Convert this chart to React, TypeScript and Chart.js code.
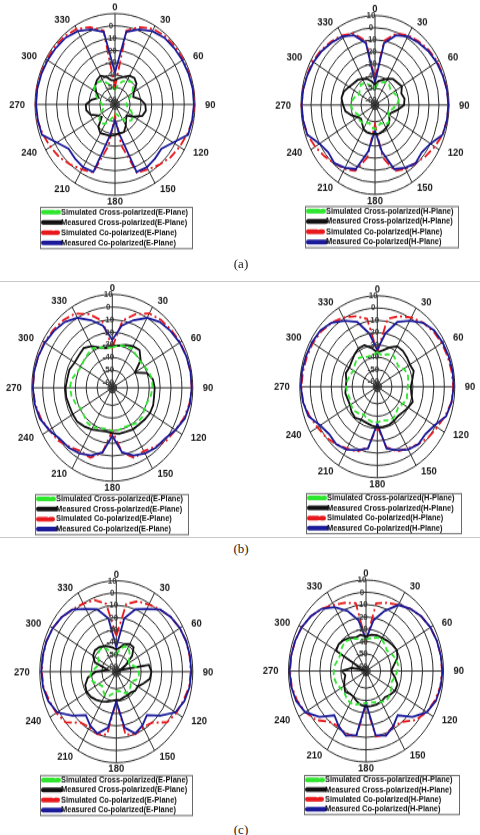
import React, { useEffect, useRef } from 'react';
import { Chart, registerables } from 'chart.js';

Chart.register(...registerables);

// ---------- axis definitions ----------
const ANGLES = [0, 10, 20, 30, 40, 50, 60, 70, 80, 90, 100, 110, 120, 130, 140, 150, 160, 170, 180, 190, 200, 210, 220, 230, 240, 250, 260, 270, 280, 290, 300, 310, 320, 330, 340, 350];
const ANGLE_LABELS = ANGLES.map(String);
const RING_TICKS = [-63, -62, -61, -60, -50, -40, -30, -20, -10, 0, 10];
const LABELED_TICKS = [-60, -50, -40, -30, -20, -10, 0, 10];
const R_MIN = -64;
const R_MAX = 10;

const SERIES_NAMES = ['Simulated Cross-polarized', 'Measured Cross-polarized', 'Simulated Co-polarized', 'Measured Co-polarized'];

// ---------- (a) E-plane ----------
const A_E_SIM_CROSS = [-52, -48, -44, -42, -40, -42, -46, -50, -52, -54, -52, -48, -45, -44, -46, -50, -54, -56, -56, -54, -50, -46, -44, -45, -48, -52, -54, -52, -50, -46, -42, -40, -40, -42, -46, -50];
const A_E_MEAS_CROSS = [-44, -42, -40, -37, -36, -38, -44, -46, -40, -36, -35, -37, -44, -50, -48, -44, -40, -40, -39, -38, -38, -37, -40, -48, -46, -40, -37, -37, -42, -48, -44, -40, -38, -37, -40, -44];
const A_E_SIM_CO = [-50, -3, 3, 7, 8.5, 9, 9, 9, 9.5, 9.5, 9, 7, 5, 3, 0, -3, -5, -30, -55, -30, -5, -3, 0, 3, 5, 7, 9, 9.5, 9.5, 9, 9, 9, 8.5, 7, 3, -3];
const A_E_MEAS_CO = [-38, -4, 1, 5, 7, 7.5, 8, 8.5, 9, 9, 8.5, 8, -2, -8, -6.5, -5, -5.5, -39, -51, -39, -5.5, -5, -6.5, -8, -2, 8, 8.5, 9, 9, 8.5, 8, 7.5, 7, 5, 1, -4];

// ---------- (a) H-plane ----------
const A_H_SIM_CROSS = [-50, -46, -44, -42, -42, -44, -43, -41, -40, -42, -46, -50, -48, -45, -44, -46, -48, -46, -44, -45, -48, -47, -45, -44, -46, -44, -41, -40, -41, -43, -46, -44, -42, -43, -46, -49];
const A_H_MEAS_CROSS = [-47, -44, -42, -39, -36, -35, -33, -36, -34, -35, -41, -46, -48, -45, -43, -42, -41, -40, -40, -40, -40, -41, -44, -46, -44, -39, -34, -32, -30, -31, -34, -36, -37, -39, -41, -44];
const A_H_SIM_CO = [-42, -10, -1, 2.5, 4.5, 6.5, 8, 8.5, 9, 9.5, 9, 8, 5, 2, -1, -3, -6, -20, -48, -20, -6, -3, -1, 2, 5, 8, 9, 9.5, 9, 8.5, 8, 6.5, 4.5, 2.5, -1, -10];
const A_H_MEAS_CO = [-45, -12, -2.5, 1.5, 3.5, 5.5, 7, 8, 9, 9.3, 9, 8, 0, -3, -1, -4, -7.5, -25, -43, -25, -7.5, -4, -1, -3, 0, 8, 9, 9.3, 9, 8, 7, 5.5, 3.5, 1.5, -2.5, -12];

// ---------- (b) E-plane ----------
const B_E_SIM_CROSS = [-32, -30, -29, -28, -30, -31, -30, -28, -27, -27, -28, -30, -30, -28, -28, -30, -31, -30, -30, -31, -30, -28, -28, -30, -31, -28, -26, -25, -26, -29, -31, -30, -29, -28, -30, -32];
const B_E_MEAS_CROSS = [-31, -30, -28, -26, -25, -30, -40, -30, -26, -25, -25, -24, -24, -25, -26, -26, -27, -27, -28, -29, -28, -26, -24, -22, -22, -22, -21, -21, -22, -22, -24, -24, -23, -26, -30, -32];
const B_E_SIM_CO = [-32, -10, -2, 4, 6, 7, 8, 8.5, 9, 9, 8, 6, 3, 1, -3, -6, -5, -12, -30, -12, -5, -6, -3, 1, 3, 6, 8, 9, 9, 8.5, 8, 7, 6, 4, -2, -10];
const B_E_MEAS_CO = [-26, -14, -7, 0, 4, 6, 7.5, 8.5, 9, 9, 8.5, 7, 3, -1, -2, -4, -7, -12, -26, -12, -7, -4, -2, -1, 3, 7, 8.5, 9, 9, 8.5, 7.5, 6, 4, 0, -7, -14];

// ---------- (b) H-plane ----------
const B_H_SIM_CROSS = [-36, -38, -36, -34, -36, -38, -35, -33, -34, -35, -35, -34, -36, -38, -36, -34, -35, -36, -35, -35, -36, -38, -36, -34, -35, -36, -35, -34, -35, -36, -38, -36, -34, -36, -38, -38];
const B_H_MEAS_CROSS = [-36, -34, -30, -26, -26, -27, -28, -27, -30, -32, -31, -28, -30, -32, -33, -32, -31, -31, -31, -32, -33, -33, -31, -32, -34, -34, -33, -34, -34, -32, -33, -32, -30, -28, -28, -32];
const B_H_SIM_CO = [-36, -8, -3, 1, 4, 6, 7, 7.5, 8, 8.5, 8, 5, 2, 0, -3, -6, -8, -14, -32, -14, -8, -6, -3, 0, 2, 5, 8, 8.5, 8, 7.5, 7, 6, 4, 1, -3, -8];
const B_H_MEAS_CO = [-34, -20, -8, -2, 4, 7, 8, 8.5, 9, 9, 8, 6, -1, -4, -3, -5, -9, -13, -34, -13, -9, -5, -3, -4, -1, 6, 8, 9, 9, 8.5, 8, 7, 4, -2, -8, -20];

// ---------- (c) E-plane ----------
const C_E_SIM_CROSS = [-50, -46, -42, -41, -44, -48, -50, -48, -44, -42, -42, -44, -48, -46, -44, -44, -46, -48, -48, -46, -43, -42, -44, -46, -44, -40, -38, -40, -44, -46, -44, -41, -40, -42, -46, -50];
const C_E_MEAS_CROSS = [-46, -44, -40, -38, -38, -44, -54, -60, -32, -30, -31, -36, -40, -40, -42, -42, -42, -41, -41, -40, -38, -36, -34, -32, -31, -32, -36, -44, -56, -42, -38, -37, -38, -40, -42, -44];
const C_E_SIM_CO = [-35, -8, -3, -1, 2, 5, 7, 8, 8, 8, 7.5, 5, 3, 0, -10, -12, -10, -12, -40, -12, -10, -12, -10, 0, 3, 5, 7.5, 8, 8, 8, 7, 5, 2, 0, -2, -8];
const C_E_MEAS_CO = [-44, -20, -10, -5, 2, 5, 7, 8, 8.5, 8.5, 8, 6, 2, -8.5, -18, -13.5, -10.5, -18, -40, -18, -10.5, -13.5, -18, -8.5, 2, 6, 8, 8.5, 8.5, 8, 7, 5, 2, -5, -10, -20];

// ---------- (c) H-plane ----------
const C_H_SIM_CROSS = [-38, -37, -35, -34, -36, -38, -36, -34, -33, -34, -36, -38, -36, -34, -33, -35, -37, -38, -38, -37, -35, -34, -35, -37, -36, -34, -33, -33, -34, -36, -36, -34, -33, -34, -36, -38];
const C_H_MEAS_CROSS = [-36, -34, -33, -33, -32, -31, -30, -32, -37, -40, -36, -32, -32, -34, -36, -35, -35, -35, -35, -36, -38, -40, -40, -38, -40, -42, -44, -41, -50, -60, -31, -30, -31, -33, -35, -34];
const C_H_SIM_CO = [-40, -8, -5, -2, 2, 5, 7, 8, 8.5, 8.5, 8, 6, 3, -2, -10, -12, -9, -10, -36, -10, -9, -12, -10, -2, 3, 6, 8, 8.5, 8.5, 8, 7, 5, 2, -2, -5, -8];
const C_H_MEAS_CO = [-38, -22, -12, -2, 2, 5, 7, 8, 8.5, 9, 8.5, 7, 3, -6, -17, -12, -8, -11, -38, -11, -8, -12, -17, -6, 3, 7, 8.5, 9, 8.5, 8, 7, 5, 2, -4, -12, -22];

// ---------- styles ----------
const STYLES = [
  { color: '#2ee62e', width: 1.8, dash: [5, 3], legendDash: [11, 3], order: 0 },
  { color: '#111111', width: 1.8, dash: [], legendDash: [], order: 1 },
  { color: '#e8191c', width: 1.8, dash: [8, 3, 2, 3], legendDash: [9, 3, 3, 3], order: 3 },
  { color: '#1b1b9a', width: 1.8, dash: [], legendDash: [], order: 2 },
];

const FONT = '"Liberation Sans", Arial, sans-serif';

type Panel = {
  left: number; top: number; h: number;
  cx: number; cy: number; rx: number; ry: number;
  legend: { x: number; y: number; w: number; h: number };
  hideTop: boolean; plane: string; data: number[][];
};

const PANELS: Panel[] = [
  { left: 0, top: 0, h: 262, cx: 115, cy: 104, rx: 80, ry: 90.5, legend: { x: 40, y: 206, w: 152, h: 41 }, hideTop: true, plane: 'E', data: [A_E_SIM_CROSS, A_E_MEAS_CROSS, A_E_SIM_CO, A_E_MEAS_CO] },
  { left: 240, top: 0, h: 262, cx: 375, cy: 104.5, rx: 74, ry: 89, legend: { x: 305, y: 205, w: 153, h: 41 }, hideTop: false, plane: 'H', data: [A_H_SIM_CROSS, A_H_MEAS_CROSS, A_H_SIM_CO, A_H_MEAS_CO] },
  { left: 0, top: 283, h: 254, cx: 112.3, cy: 387.3, rx: 80.5, ry: 93, legend: { x: 35, y: 493, w: 153, h: 40 }, hideTop: false, plane: 'E', data: [B_E_SIM_CROSS, B_E_MEAS_CROSS, B_E_SIM_CO, B_E_MEAS_CO] },
  { left: 240, top: 283, h: 254, cx: 377.3, cy: 386.7, rx: 77.5, ry: 91, legend: { x: 306, y: 493, w: 155, h: 40 }, hideTop: false, plane: 'H', data: [B_H_SIM_CROSS, B_H_MEAS_CROSS, B_H_SIM_CO, B_H_MEAS_CO] },
  { left: 0, top: 560, h: 262, cx: 116.3, cy: 671.7, rx: 76.5, ry: 91, legend: { x: 40, y: 775, w: 152, h: 40 }, hideTop: false, plane: 'E', data: [C_E_SIM_CROSS, C_E_MEAS_CROSS, C_E_SIM_CO, C_E_MEAS_CO] },
  { left: 240, top: 560, h: 262, cx: 366, cy: 671, rx: 77.5, ry: 91, legend: { x: 304, y: 775, w: 155, h: 39 }, hideTop: false, plane: 'H', data: [C_H_SIM_CROSS, C_H_MEAS_CROSS, C_H_SIM_CO, C_H_MEAS_CO] },
];

function makeDecor(p: Panel, s: number, names: string[]) {
  return {
    id: 'polarDecor',
    afterDraw(chart: any) {
      const ctx: CanvasRenderingContext2D = chart.ctx;
      const sc: any = chart.scales.r;
      ctx.save();
      // angle labels
      ctx.fillStyle = '#1a1a1a';
      ctx.font = `bold 9.5px ${FONT}`;
      ctx.textBaseline = 'middle';
      ANGLES.forEach((a, i) => {
        if (a % 30 !== 0) return;
        const pt = sc.getPointPosition(i, sc.drawingArea);
        const rad = (a * Math.PI) / 180;
        const x = pt.x + Math.sin(rad) * 10;
        const y = pt.y - Math.cos(rad) * (6.5 / s);
        ctx.textAlign = a === 0 || a === 180 ? 'center' : a < 180 ? 'left' : 'right';
        ctx.fillText(String(a), x, y);
      });
      // radial tick labels
      ctx.font = `bold 8px ${FONT}`;
      ctx.fillStyle = '#3a3a3a';
      ctx.textAlign = 'center';
      LABELED_TICKS.forEach((v) => {
        if (p.hideTop && v === 10) return;
        const d = sc.getDistanceFromCenterForValue(v);
        ctx.fillText(String(v), sc.xCenter - 4, sc.yCenter - d);
      });
      // legend
      const lx = p.legend.x - p.left;
      const ly = (p.legend.y - p.top) / s;
      const lw = p.legend.w;
      const lh = p.legend.h / s;
      ctx.fillStyle = '#ffffff';
      ctx.fillRect(lx, ly, lw, lh);
      ctx.strokeStyle = '#6a6a6a';
      ctx.lineWidth = 1;
      ctx.setLineDash([]);
      ctx.strokeRect(lx + 0.5, ly + 0.5, lw, lh);
      ctx.font = `bold 7.5px ${FONT}`;
      ctx.textAlign = 'left';
      ctx.textBaseline = 'middle';
      names.forEach((name, i) => {
        const st = STYLES[i];
        const yy = ly + (lh * (i + 0.5)) / 4;
        ctx.save();
        ctx.strokeStyle = st.color;
        ctx.lineWidth = 4;
        ctx.lineCap = 'round';
        ctx.setLineDash(st.legendDash);
        ctx.beginPath();
        ctx.moveTo(lx + 3, yy);
        ctx.lineTo(lx + (st.legendDash.length ? 19 : 21), yy);
        ctx.stroke();
        ctx.restore();
        ctx.fillStyle = '#111';
        ctx.fillText(name, lx + 21, yy);
      });
      ctx.restore();
    },
  };
}

function PolarChart({ p }: { p: Panel }) {
  const ref = useRef<HTMLCanvasElement>(null);
  const s = p.ry / p.rx;
  const innerH = p.h / s;
  useEffect(() => {
    if (!ref.current) return;
    const names = SERIES_NAMES.map((n) => `${n}(${p.plane}-Plane)`);
    const chart = new Chart(ref.current, {
      type: 'radar',
      data: {
        labels: ANGLE_LABELS,
        datasets: STYLES.map((st, i) => ({
          label: names[i],
          data: p.data[i],
          borderColor: st.color,
          borderWidth: st.width,
          borderDash: st.dash,
          pointRadius: 0,
          fill: false,
          tension: 0,
          order: st.order,
          clip: false as any,
        })),
      },
      options: {
        responsive: true,
        maintainAspectRatio: false,
        animation: false,
        events: [],
        layout: { padding: 0 },
        plugins: { legend: { display: false }, tooltip: { enabled: false } },
        scales: {
          r: {
            min: R_MIN,
            max: R_MAX,
            grid: { circular: true, color: '#2a2a2a', lineWidth: 1 },
            angleLines: {
              display: true,
              color: '#2a2a2a',
              lineWidth: (c: any) => (ANGLES[c.index] % 30 === 0 ? 1 : 0),
            },
            ticks: { display: false },
            pointLabels: { display: false },
            afterBuildTicks: (sc: any) => {
              sc.ticks = RING_TICKS.map((v) => ({ value: v }));
            },
            afterFit: (sc: any) => {
              sc.xCenter = p.cx - p.left;
              sc.yCenter = (p.cy - p.top) / s;
              sc.drawingArea = p.rx;
            },
          } as any,
        },
      },
      plugins: [makeDecor(p, s, names)],
    } as any);
    return () => chart.destroy();
  }, []);
  return (
    <div style={{ position: 'absolute', left: p.left, top: p.top, width: 240, height: p.h }}>
      <div style={{ width: 240, height: innerH, transform: `scaleY(${s})`, transformOrigin: '0 0' }}>
        <canvas ref={ref} />
      </div>
    </div>
  );
}

const CAPTIONS = [
  { text: '(a)', y: 264 },
  { text: '(b)', y: 549 },
  { text: '(c)', y: 830 },
];
const SEPARATORS = [281, 537];

export default function App() {
  return (
    <div style={{ position: 'absolute', left: 0, top: 0, width: 480, height: 835, background: '#fff', overflow: 'hidden' }}>
      {SEPARATORS.map((y) => (
        <div key={y} style={{ position: 'absolute', left: 0, top: y, width: 480, height: 0, borderTop: '1px solid #c8c8c8' }} />
      ))}
      {PANELS.map((p, i) => (
        <PolarChart key={i} p={p} />
      ))}
      {CAPTIONS.map((c) => (
        <div
          key={c.text}
          style={{ position: 'absolute', left: 0, width: 482, top: c.y - 8, height: 16, lineHeight: '16px', textAlign: 'center', fontFamily: '"Liberation Serif", "Times New Roman", serif', fontSize: 13, color: '#222' }}
        >
          {c.text}
        </div>
      ))}
    </div>
  );
}
